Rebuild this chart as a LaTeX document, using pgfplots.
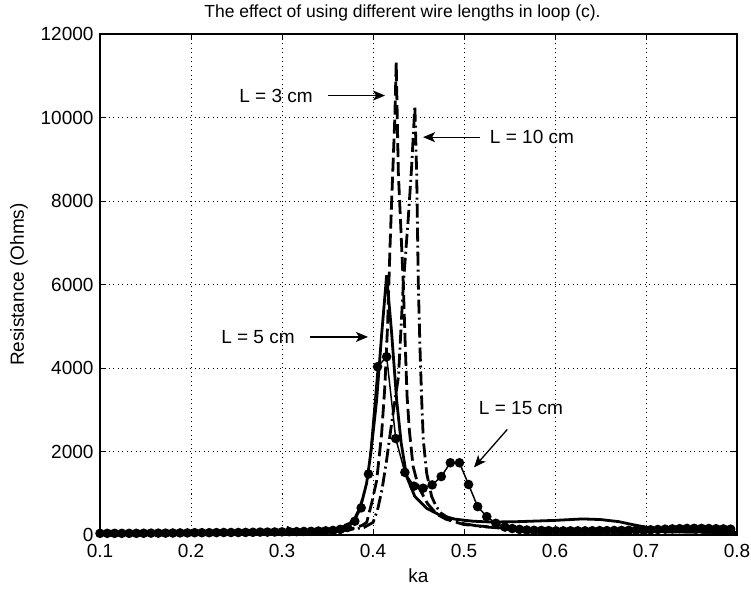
\documentclass[border=0pt]{standalone}
\usepackage{pgfplots}
\pgfplotsset{compat=1.18}
\usepackage{fontspec}
\setmainfont{Liberation Sans}
\usetikzlibrary{arrows.meta}

\begin{document}
\fontsize{19}{22}\selectfont
\begin{tikzpicture}
\begin{axis}[
  scale only axis,
  width=637pt, height=501pt,
  at={(0,0)}, anchor=south west,
  xmin=0.1, xmax=0.8, ymin=0, ymax=12000,
  xtick={0.1,0.2,0.3,0.4,0.5,0.6,0.7,0.8},
  ytick={0,2000,4000,6000,8000,10000,12000},
  scaled ticks=false,
  /pgf/number format/assume math mode=true,
  xticklabel style={/pgf/number format/fixed,/pgf/number format/precision=1,/pgf/number format/fixed zerofill, yshift=-3pt},
  yticklabel style={/pgf/number format/set thousands separator={}},
  tick label style={font=\fontsize{19}{22}\selectfont},
  label style={font=\fontsize{19}{22}\selectfont},
  tick align=inside,
  major tick length=6pt,
  tick style={black, line width=0.8pt},
  axis line style={black, line width=1.4pt},
  grid=major,
  major grid style={black, line width=0.9pt, dash pattern=on 1pt off 3.5pt},
  xlabel={ka},
  xlabel style={yshift=2pt},
  ylabel={Resistance (Ohms)},
  title={The effect of using different wire lengths in loop (c).},
  title style={font=\fontsize{17.5}{20}\selectfont, xshift=-16pt},
  clip=true,
]
% L = 3 cm (dashed)
\addplot[black, line width=2.8pt, dash pattern=on 14pt off 5pt] coordinates {
(0.10,30) (0.15,35) (0.20,40) (0.25,50) (0.29,60) (0.300,70) (0.302,180) (0.306,180) (0.308,70)
(0.33,75) (0.35,85) (0.37,120) (0.38,170) (0.388,230) (0.393,300) (0.3985,760)
(0.404,1300) (0.4095,2430) (0.413,3550) (0.416,5000) (0.4187,6900) (0.4205,8000)
(0.424,10000) (0.4255,11320) (0.4278,8700) (0.4305,7400) (0.4333,6000) (0.4355,4500)
(0.4375,3300) (0.440,2500) (0.444,1650) (0.450,1150) (0.460,750) (0.470,500) (0.480,380)
(0.500,250) (0.550,150) (0.600,110) (0.700,80) (0.800,60)
};
% L = 10 cm (dash-dot)
\addplot[black, line width=2.8pt, dash pattern=on 14pt off 4pt on 2pt off 4pt] coordinates {
(0.10,30) (0.20,40) (0.30,60) (0.35,80) (0.37,110) (0.38,150) (0.39,180) (0.40,300)
(0.405,600) (0.41,1100) (0.415,1800) (0.42,2600) (0.424,3200) (0.428,3800) (0.4333,6000)
(0.4388,7600) (0.4424,8800) (0.446,10280) (0.448,8650) (0.4498,6000) (0.4516,4500)
(0.4534,3300) (0.4553,2270) (0.459,1480) (0.4645,920) (0.4695,680) (0.475,520)
(0.485,380) (0.50,270) (0.52,200) (0.55,150) (0.60,120) (0.65,100) (0.70,90) (0.75,70) (0.80,60)
};
% L = 5 cm (solid)
\addplot[black, line width=2.8pt] coordinates {
(0.10,20) (0.15,25) (0.20,35) (0.25,45) (0.30,60) (0.33,80) (0.35,110) (0.36,150)
(0.37,220) (0.375,290) (0.38,400) (0.385,620) (0.389,900) (0.393,1240) (0.398,2030)
(0.404,3230) (0.4096,4830) (0.415,6220) (0.4205,4830) (0.426,3230) (0.431,2200)
(0.437,1400) (0.446,920) (0.459,640) (0.473,480) (0.49,380) (0.51,330) (0.53,310)
(0.56,320) (0.60,350) (0.63,385) (0.65,370) (0.67,320) (0.685,250) (0.697,200)
(0.71,140) (0.72,110) (0.75,75) (0.80,50)
};
% L = 15 cm (solid with markers)
\addplot[black, line width=1.5pt, mark=*, mark size=4pt] coordinates {
(0.100,40) (0.108,40) (0.116,40) (0.124,40) (0.132,40) (0.140,40) (0.148,42) (0.156,45)
(0.164,45) (0.172,45) (0.180,48) (0.188,50) (0.196,50) (0.204,55) (0.212,55) (0.220,55)
(0.228,58) (0.236,60) (0.244,60) (0.252,60) (0.260,62) (0.268,65) (0.276,70) (0.284,70)
(0.292,72) (0.300,75) (0.308,80) (0.316,80) (0.324,85) (0.332,88) (0.340,95) (0.348,100)
(0.356,110) (0.364,135) (0.372,180) (0.380,330) (0.387,650) (0.395,1460) (0.405,4030)
(0.415,4270) (0.425,2310) (0.435,1500) (0.445,1170) (0.455,1120) (0.465,1200) (0.475,1400)
(0.485,1730) (0.495,1730) (0.505,1210) (0.515,680) (0.525,440) (0.535,280) (0.545,190)
(0.553,155) (0.561,135) (0.569,120) (0.577,112) (0.585,108) (0.593,105) (0.601,100)
(0.609,100) (0.617,100) (0.625,100) (0.633,100) (0.641,102) (0.649,105) (0.657,105)
(0.665,108) (0.673,110) (0.681,112) (0.689,115) (0.697,120) (0.705,125) (0.713,132)
(0.721,140) (0.729,147) (0.737,152) (0.745,158) (0.753,160) (0.761,158) (0.769,155)
(0.777,150) (0.785,146) (0.793,140)
};
% annotations
\node[font=\fontsize{19}{22}\selectfont] at (axis cs:0.2934,10526) {L = 3 cm};
\draw[line width=1.3pt, -{Stealth[length=12pt,width=10pt,inset=3pt]}] (axis cs:0.3505,10526) -- (axis cs:0.4132,10526);
\node[font=\fontsize{19}{22}\selectfont] at (axis cs:0.5747,9529) {L = 10 cm};
\draw[line width=1.3pt, -{Stealth[length=12pt,width=10pt,inset=3pt]}] (axis cs:0.5176,9529) -- (axis cs:0.4550,9529);
\node[font=\fontsize{19}{22}\selectfont] at (axis cs:0.2736,4744) {L = 5 cm};
\draw[line width=1.3pt, -{Stealth[length=12pt,width=10pt,inset=3pt]}] (axis cs:0.3308,4744) -- (axis cs:0.3945,4744);
\node[font=\fontsize{19}{22}\selectfont] at (axis cs:0.5626,3046) {L = 15 cm};
\draw[line width=1.3pt, -{Stealth[length=12pt,width=10pt,inset=3pt]}] (axis cs:0.5476,2529) -- (axis cs:0.511,1620);
\end{axis}
\pgfresetboundingbox
\useasboundingbox (-100pt,-53pt) rectangle (651pt,535pt);
\end{tikzpicture}
\end{document}
